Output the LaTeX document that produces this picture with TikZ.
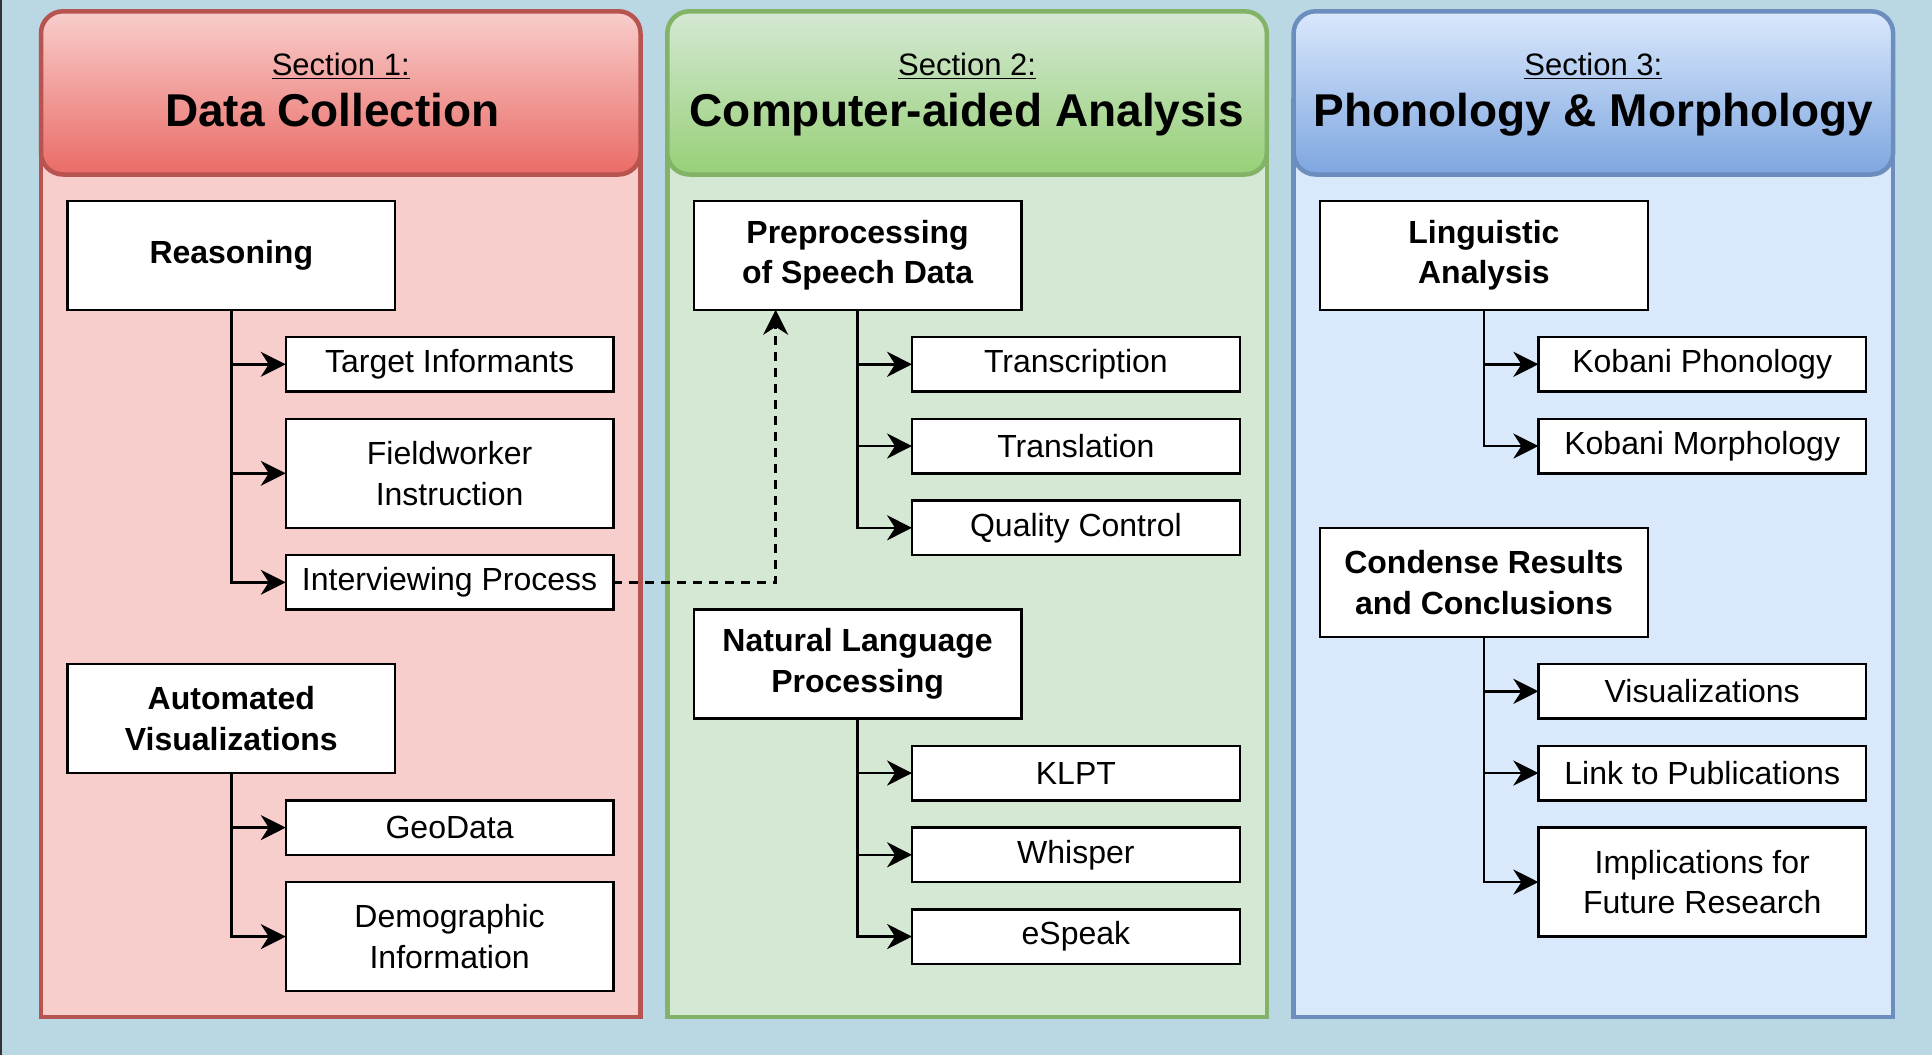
\documentclass[tikz,border=0pt]{standalone}
\usepackage{fontspec}
\setmainfont{Liberation Sans}
\usetikzlibrary{calc,arrows.meta}

\definecolor{bgblue}{HTML}{BAD7E4}
\definecolor{redline}{HTML}{B85450}
\definecolor{redfill}{HTML}{F8CECC}
\definecolor{redgrad}{HTML}{EA6B66}
\definecolor{greenline}{HTML}{82B366}
\definecolor{greenfill}{HTML}{D5E8D4}
\definecolor{greengrad}{HTML}{97D077}
\definecolor{blueline}{HTML}{6C8EBF}
\definecolor{bluefill}{HTML}{DAE8FC}
\definecolor{bluegrad}{HTML}{7EA6E0}

\begin{document}
\begin{tikzpicture}[x=0.5pt,y=-0.5pt,
 box/.style={draw,fill=white,line width=1.2pt,outer sep=0pt,inner sep=0pt,align=center,minimum width=163.85pt,minimum height=27.25pt,font=\fontsize{16}{20.3}\selectfont},
 tallbox/.style={box,minimum height=54.5pt},
 bigbox/.style={tallbox,font=\fontsize{16}{20.3}\selectfont\bfseries},
 conn/.style={line width=1.2pt,-{Stealth[length=12.5pt,width=12.5pt,inset=4pt]}},
 panel/.style={line width=2.25pt},
 header/.style={line width=2.25pt,rounded corners=11pt},
 sectxt/.style={anchor=base,inner sep=0pt,font=\fontsize{15.5}{18}\selectfont},
 titletxt/.style={anchor=base,inner sep=0pt,font=\fontsize{23}{27}\selectfont\bfseries}]

\useasboundingbox (0,0) rectangle (1932,1055);
\fill [bgblue] (0,0) rectangle (1932,1055);
\draw [line width=0.75pt,black!80] (0.75,0) -- (0.75,1055);

%% Section 1
\begin{scope}[shift={(0,0)}]
 \draw [panel,draw=redline,fill=redfill] (41,100) rectangle (640.5,1017);
 \draw [header,draw=redline,top color=redfill,bottom color=redgrad] (41,11.3) rectangle (640.5,174.5);
 \node[sectxt] (sec1) at (340.75,75) {\underline{Section 1:}};
 \node[titletxt] (title1) at (332.5,126.7) {Data Collection};

 \node[bigbox] (reason) at (231.3,255.3) {Reasoning};
 \node[box] (target) at (449.6,364.3) {Target Informants};
 \node[tallbox] (fieldw) at (449.6,473.3) {Fieldworker\\Instruction};
 \node[box] (interv) at (449.6,582.3) {Interviewing Process};

 \node[bigbox] (autovis) at (231.3,718.6) {Automated\\Visualizations};
 \node[box] (geodata) at (449.6,827.6) {GeoData};
 \node[tallbox] (demog) at (449.6,936.6) {Demographic\\Information};

 \draw [conn] (reason.south) |- (target.west);
 \draw [conn] (reason.south) |- (fieldw.west);
 \draw [conn] (reason.south) |- (interv.west);
 \draw [conn] (autovis.south) |- (geodata.west);
 \draw [conn] (autovis.south) |- (demog.west);
\end{scope}

%% Section 2
\begin{scope}[shift={(626.3,0)}]
 \draw [panel,draw=greenline,fill=greenfill] (41,100) rectangle (640.5,1017);
 \draw [header,draw=greenline,top color=greenfill,bottom color=greengrad] (41,11.3) rectangle (640.5,174.5);
 \node[sectxt] (sec2) at (340.75,75) {\underline{Section 2:}};
 \node[titletxt] (title2) at (340.75,126.7) {Computer-aided Analysis};

 \node[bigbox] (preproc) at (231.3,255.3) {Preprocessing\\of Speech Data};
 \node[box] (transcr) at (449.6,364.3) {Transcription};
 \node[box] (transl) at (449.6,446.05) {Translation};
 \node[box] (quality) at (449.6,527.8) {Quality Control};

 \node[bigbox] (nlp) at (231.3,664.05) {Natural Language\\Processing};
 \node[box] (klpt) at (449.6,773.05) {KLPT};
 \node[box] (whisper) at (449.6,854.8) {Whisper};
 \node[box] (espeak) at (449.6,936.55) {eSpeak};

 \draw [conn] (preproc.south) |- (transcr.west);
 \draw [conn] (preproc.south) |- (transl.west);
 \draw [conn] (preproc.south) |- (quality.west);
 \draw [conn] (nlp.south) |- (klpt.west);
 \draw [conn] (nlp.south) |- (whisper.west);
 \draw [conn] (nlp.south) |- (espeak.west);
\end{scope}

%% Section 3
\begin{scope}[shift={(1252.6,0)}]
 \draw [panel,draw=blueline,fill=bluefill] (41,100) rectangle (640.5,1017);
 \draw [header,draw=blueline,top color=bluefill,bottom color=bluegrad] (41,11.3) rectangle (640.5,174.5);
 \node[sectxt] (sec3) at (340.75,75) {\underline{Section 3:}};
 \node[titletxt] (title3) at (340.75,126.7) {Phonology \& Morphology};

 \node[bigbox] (lingan) at (231.3,255.3) {Linguistic\\Analysis};
 \node[box] (kobphon) at (449.6,364.3) {Kobani Phonology};
 \node[box] (kobmorph) at (449.6,446.05) {Kobani Morphology};

 \node[bigbox] (condense) at (231.3,582.3) {Condense Results\\and Conclusions};
 \node[box] (vis) at (449.6,691.3) {Visualizations};
 \node[box] (linkpub) at (449.6,773.05) {Link to Publications};
 \node[tallbox] (implic) at (449.6,882.05) {Implications for\\Future Research};

 \draw [conn] (lingan.south) |- (kobphon.west);
 \draw [conn] (lingan.south) |- (kobmorph.west);
 \draw [conn] (condense.south) |- (vis.west);
 \draw [conn] (condense.south) |- (linkpub.west);
 \draw [conn] (condense.south) |- (implic.west);
\end{scope}

%% interview -> preprocessing
\draw [conn,dash pattern=on 4.5pt off 3.5pt] (interv.east) -| ($(preproc.south west)!0.25!(preproc.south east)$);

\end{tikzpicture}
\end{document}
